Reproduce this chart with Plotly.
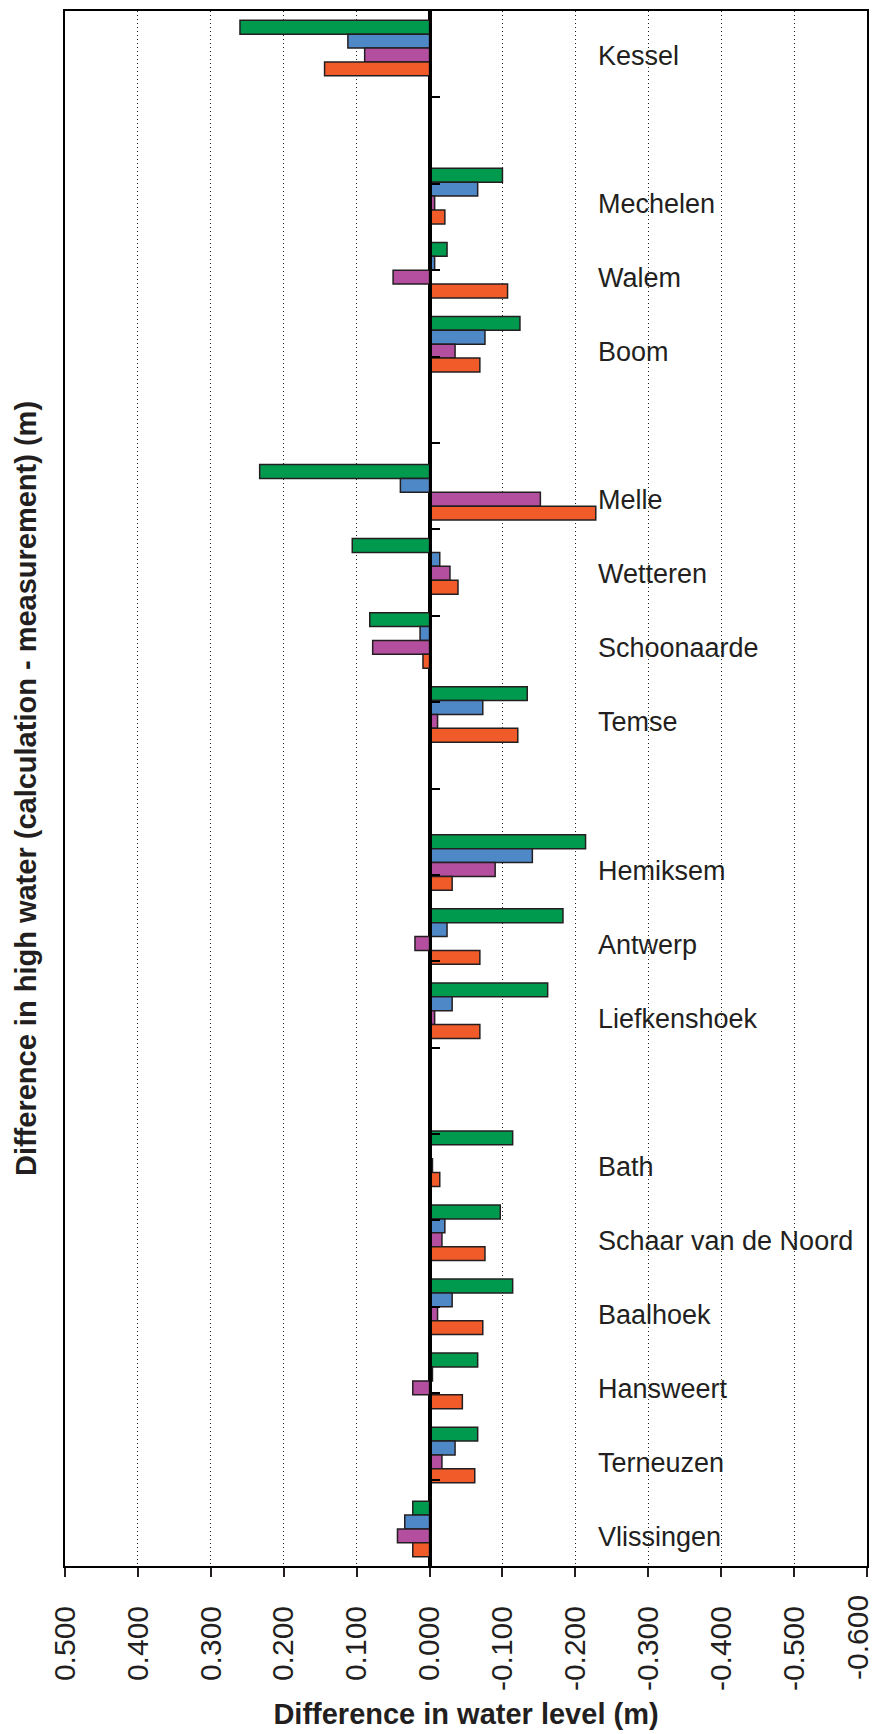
import plotly.graph_objects as go

# Stations (empty slots are gaps between river sections)
stations = ["Kessel", "gap1", "Mechelen", "Walem", "Boom", "gap2", "Melle", "Wetteren",
            "Schoonaarde", "Temse", "gap3", "Hemiksem", "Antwerp", "Liefkenshoek", "gap4",
            "Bath", "Schaar van de Noord", "Baalhoek", "Hansweert", "Terneuzen", "Vlissingen"]

series_green = [0.260, None, -0.100, -0.024, -0.124, None, 0.233, 0.106, 0.082, -0.134, None,
                -0.214, -0.183, -0.162, None, -0.114, -0.097, -0.114, -0.066, -0.066, 0.023]
series_blue = [0.112, None, -0.066, -0.007, -0.076, None, 0.040, -0.014, 0.013, -0.073, None,
               -0.141, -0.024, -0.031, None, 0.000, -0.021, -0.031, -0.004, -0.035, 0.034]
series_magenta = [0.089, None, -0.007, 0.050, -0.035, None, -0.152, -0.028, 0.078, -0.011, None,
                  -0.090, 0.020, -0.007, None, -0.004, -0.017, -0.011, 0.023, -0.017, 0.044]
series_orange = [0.144, None, -0.021, -0.107, -0.069, None, -0.228, -0.039, 0.009, -0.121, None,
                 -0.031, -0.069, -0.069, None, -0.014, -0.076, -0.073, -0.045, -0.062, 0.023]

x_tickvals = [0.5, 0.4, 0.3, 0.2, 0.1, 0.0, -0.1, -0.2, -0.3, -0.4, -0.5, -0.6]
x_ticktext = ["0.500", "0.400", "0.300", "0.200", "0.100", "0.000",
              "-0.100", "-0.200", "-0.300", "-0.400", "-0.500", "-0.600"]

# minor category ticks drawn on the zero line (18 equal divisions)
zero_tick_positions = list(range(1, 18))

FONT = "Liberation Sans, Arial, Helvetica, sans-serif"
INK = "#231f20"

series = [
    ("Series 1", series_green, "#009a4e"),
    ("Series 2", series_blue, "#4f88c6"),
    ("Series 3", series_magenta, "#b44e9e"),
    ("Series 4", series_orange, "#f15a29"),
]

fig = go.Figure()
for name, vals, col in series:
    fig.add_trace(go.Bar(
        name=name, x=vals, y=stations, orientation="h",
        marker=dict(color=col, line=dict(color=INK, width=1.5)),
        showlegend=False,
    ))

# invisible helper trace so the zero-line tick axis is rendered
fig.add_trace(go.Scatter(x=[None], y=[None], yaxis="y2", mode="markers",
                         showlegend=False, hoverinfo="skip"))

label_x = -0.228
for s in stations:
    if s.startswith("gap"):
        continue
    fig.add_annotation(x=label_x, y=s, text=s, showarrow=False, xanchor="left",
                       yanchor="middle", yshift=-8,
                       font=dict(family=FONT, size=27, color=INK))

# the last tick label sits on the page edge: draw it as an annotation kept inside the page
axis_ticktext = x_ticktext[:-1] + [""]
fig.add_annotation(x=x_tickvals[-1], xref="x", y=0, yref="paper", text=x_ticktext[-1],
                   textangle=-90, showarrow=False, xanchor="right", xshift=8,
                   yanchor="top", yshift=-28, borderpad=0,
                   font=dict(family=FONT, size=30, color=INK))

fig.update_layout(
    width=878, height=1734,
    margin=dict(l=65, r=9, t=9, b=160),
    paper_bgcolor="white", plot_bgcolor="white",
    barmode="group", bargap=0.25, bargroupgap=0,
    xaxis=dict(
        range=[0.5, -0.6], tickvals=x_tickvals, ticktext=axis_ticktext,
        tickangle=-90, ticks="outside", ticklen=9, tickwidth=2, tickcolor=INK,
        ticklabelstandoff=17,
        tickfont=dict(family=FONT, size=30, color=INK),
        showgrid=True, gridcolor="#222222", griddash="1px,3px", gridwidth=1.2,
        zeroline=True, zerolinecolor="black", zerolinewidth=2.5,
        showline=True, linecolor="black", linewidth=2, mirror=True,
        title=dict(text="Difference in water level (m)", standoff=14,
                   font=dict(family=FONT, size=29, color=INK, weight="bold")),
    ),
    yaxis=dict(
        type="category", categoryorder="array", categoryarray=stations,
        range=[20.5, -0.5], showticklabels=False, ticks="",
        showgrid=False, zeroline=False,
        showline=True, linecolor="black", linewidth=2, mirror=True,
        title=dict(text="Difference in high water (calculation - measurement) (m)",
                   standoff=18,
                   font=dict(family=FONT, size=29, color=INK, weight="bold")),
    ),
    yaxis2=dict(
        overlaying="y", anchor="free", position=0.5 / 1.1, side="left",
        range=[18, 0], tickvals=zero_tick_positions, showticklabels=False,
        ticks="inside", ticklen=9, tickwidth=2, tickcolor="black",
        showline=True, linecolor="black", linewidth=2.5,
        showgrid=False, zeroline=False,
    ),
)

post = (
    "document.body.style.margin='0';"
    "document.body.style.overflow='hidden';"
    "document.documentElement.style.overflow='hidden';"
)

fig.write_html("out.html", config={"displayModeBar": False}, post_script=post)
